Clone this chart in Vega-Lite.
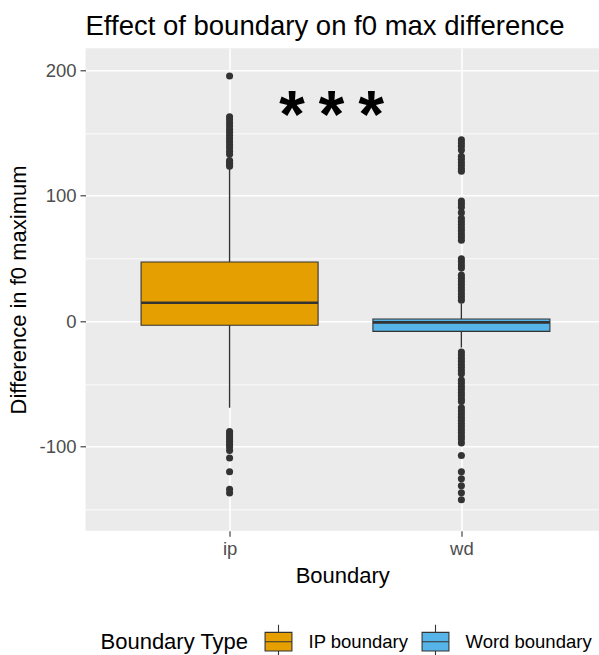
{
  "$schema": "https://vega.github.io/schema/vega-lite/v6.json",
  "width": 513.5,
  "height": 482.4,
  "autosize": {"type": "none"},
  "padding": {"left": 85.5, "top": 48.3, "right": 0, "bottom": 124.3},
  "background": "white",
  "title": {
    "text": "Effect of boundary on f0 max difference",
    "anchor": "start",
    "frame": "group",
    "font": "Liberation Sans",
    "fontSize": 27.5,
    "fontWeight": "normal",
    "color": "black",
    "offset": 8
  },
  "config": {
    "view": {"fill": "#EBEBEB", "stroke": null},
    "axis": {
      "labelFont": "Liberation Sans",
      "titleFont": "Liberation Sans",
      "labelFontSize": 18.5,
      "titleFontSize": 22,
      "labelColor": "#4D4D4D",
      "titleColor": "black",
      "titleFontWeight": "normal",
      "tickColor": "#333333",
      "tickSize": 5.5,
      "tickWidth": 1.1,
      "domain": false,
      "gridColor": "white"
    }
  },
  "datasets": {
    "boxes": [
      {"boundary": "ip", "pos": 1, "type": "IP boundary", "lower": -69, "q1": -3.3, "median": 14.7, "q3": 47.2, "upper": 123},
      {"boundary": "wd", "pos": 2, "type": "Word boundary", "lower": -21, "q1": -8.1, "median": -1.0, "q3": 1.7, "upper": 14}
    ],
    "outliers": [
      {"pos": 1, "value": 195.4}, {"pos": 1, "value": 163}, {"pos": 1, "value": 160.5}, {"pos": 1, "value": 158}, {"pos": 1, "value": 155.5}, {"pos": 1, "value": 153}, {"pos": 1, "value": 150.5}, {"pos": 1, "value": 148}, {"pos": 1, "value": 145.5}, {"pos": 1, "value": 143}, {"pos": 1, "value": 140.5}, {"pos": 1, "value": 138}, {"pos": 1, "value": 135.5}, {"pos": 1, "value": 133}, {"pos": 1, "value": 128}, {"pos": 1, "value": 126.5}, {"pos": 1, "value": 125}, {"pos": 1, "value": 123.5},
      {"pos": 1, "value": -88}, {"pos": 1, "value": -90}, {"pos": 1, "value": -92}, {"pos": 1, "value": -94}, {"pos": 1, "value": -96}, {"pos": 1, "value": -98}, {"pos": 1, "value": -100}, {"pos": 1, "value": -103}, {"pos": 1, "value": -109}, {"pos": 1, "value": -120}, {"pos": 1, "value": -134}, {"pos": 1, "value": -137},
      {"pos": 2, "value": 144.5}, {"pos": 2, "value": 142}, {"pos": 2, "value": 139.5}, {"pos": 2, "value": 136.5}, {"pos": 2, "value": 131.5}, {"pos": 2, "value": 129}, {"pos": 2, "value": 126.5}, {"pos": 2, "value": 124}, {"pos": 2, "value": 121.5}, {"pos": 2, "value": 119.5},
      {"pos": 2, "value": 95.8}, {"pos": 2, "value": 93.3}, {"pos": 2, "value": 90.8}, {"pos": 2, "value": 86.5}, {"pos": 2, "value": 82}, {"pos": 2, "value": 79.5}, {"pos": 2, "value": 77}, {"pos": 2, "value": 74.5}, {"pos": 2, "value": 72}, {"pos": 2, "value": 69.5}, {"pos": 2, "value": 67}, {"pos": 2, "value": 64.5},
      {"pos": 2, "value": 49.8}, {"pos": 2, "value": 47.3}, {"pos": 2, "value": 44.8}, {"pos": 2, "value": 42.3}, {"pos": 2, "value": 36.7}, {"pos": 2, "value": 34.2}, {"pos": 2, "value": 31.7}, {"pos": 2, "value": 29.2}, {"pos": 2, "value": 26.7}, {"pos": 2, "value": 24.2}, {"pos": 2, "value": 21.7}, {"pos": 2, "value": 19.2}, {"pos": 2, "value": 16.7},
      {"pos": 2, "value": -24.5}, {"pos": 2, "value": -27}, {"pos": 2, "value": -29.5}, {"pos": 2, "value": -32}, {"pos": 2, "value": -34.5}, {"pos": 2, "value": -37}, {"pos": 2, "value": -39.5}, {"pos": 2, "value": -42}, {"pos": 2, "value": -47}, {"pos": 2, "value": -49.5}, {"pos": 2, "value": -52}, {"pos": 2, "value": -54.5}, {"pos": 2, "value": -57}, {"pos": 2, "value": -59.5}, {"pos": 2, "value": -62}, {"pos": 2, "value": -64}, {"pos": 2, "value": -69}, {"pos": 2, "value": -71.5}, {"pos": 2, "value": -74}, {"pos": 2, "value": -76.5}, {"pos": 2, "value": -79}, {"pos": 2, "value": -81.5}, {"pos": 2, "value": -84}, {"pos": 2, "value": -86.5}, {"pos": 2, "value": -89}, {"pos": 2, "value": -91.5}, {"pos": 2, "value": -94}, {"pos": 2, "value": -97},
      {"pos": 2, "value": -107}, {"pos": 2, "value": -120}, {"pos": 2, "value": -125.6}, {"pos": 2, "value": -131.2}, {"pos": 2, "value": -136.7}, {"pos": 2, "value": -142.3}
    ],
    "annot": [{"pos": 1.44, "value": 161, "label": "***"}]
  },
  "encoding": {
    "x": {
      "field": "pos",
      "type": "quantitative",
      "title": "Boundary",
      "scale": {"domain": [0.4, 2.572], "nice": false, "zero": false},
      "axis": {
        "values": [1, 2],
        "labelExpr": "datum.value == 1 ? 'ip' : 'wd'",
        "grid": true,
        "gridWidth": 1.6,
        "labelPadding": 3,
        "titlePadding": 8
      }
    }
  },
  "layer": [
    {
      "data": {"name": "boxes"},
      "mark": {"type": "rule", "color": "#333333", "strokeWidth": 1.4},
      "encoding": {
        "y": {
          "field": "lower",
          "type": "quantitative",
          "title": "Difference in f0 maximum",
          "scale": {"domain": [-167, 217.5], "nice": false, "zero": false},
          "axis": {
            "values": [-150, -100, -50, 0, 50, 100, 150, 200],
            "labelExpr": "datum.value % 100 === 0 ? '' + datum.value : ''",
            "tickOpacity": {"condition": {"test": "datum.value % 100 !== 0", "value": 0}, "value": 1},
            "gridWidth": {"condition": {"test": "datum.value % 100 !== 0", "value": 0.8}, "value": 1.6},
            "grid": true,
            "labelPadding": 4,
            "titlePadding": 8
          }
        },
        "y2": {"field": "upper"}
      }
    },
    {
      "data": {"name": "boxes"},
      "mark": {"type": "bar", "size": 177, "stroke": "#333333", "strokeWidth": 1.1, "orient": "vertical"},
      "encoding": {
        "y": {"field": "q1", "type": "quantitative", "title": "Difference in f0 maximum"},
        "y2": {"field": "q3"},
        "fill": {
          "field": "type",
          "type": "nominal",
          "scale": {"domain": ["IP boundary", "Word boundary"], "range": ["#E69F00", "#56B4E9"]},
          "legend": {
            "title": "Boundary Type",
            "orient": "none",
            "direction": "horizontal",
            "legendX": 15,
            "legendY": 575,
            "titleOrient": "left",
            "titleFont": "Liberation Sans",
            "titleFontSize": 22,
            "titleFontWeight": "normal",
            "titleColor": "black",
            "titlePadding": 12,
            "labelFont": "Liberation Sans",
            "labelFontSize": 18.5,
            "labelColor": "black",
            "labelOffset": 12,
            "columnPadding": 9,
            "symbolType": "M-0.79,-0.55H0.79V0.55H-0.79Z M-0.79,0H0.79 M0,-1V-0.55 M0,0.55V1",
            "symbolSize": 1156,
            "symbolStrokeColor": "#333333",
            "symbolStrokeWidth": 1.1,
            "symbolOpacity": 1
          }
        }
      }
    },
    {
      "data": {"name": "boxes"},
      "mark": {"type": "tick", "orient": "horizontal", "size": 177, "thickness": 2.7, "color": "#333333", "opacity": 1},
      "encoding": {
        "y": {"field": "median", "type": "quantitative", "title": "Difference in f0 maximum"}
      }
    },
    {
      "data": {"name": "outliers"},
      "mark": {"type": "circle", "color": "#333333", "opacity": 1, "size": 50},
      "encoding": {
        "y": {"field": "value", "type": "quantitative", "title": "Difference in f0 maximum"}
      }
    },
    {
      "data": {"name": "annot"},
      "mark": {"type": "text", "font": "Liberation Mono", "fontWeight": "bold", "fontSize": 66, "color": "black", "baseline": "middle", "align": "center"},
      "encoding": {
        "y": {"field": "value", "type": "quantitative", "title": "Difference in f0 maximum"},
        "text": {"field": "label"}
      }
    }
  ]
}
